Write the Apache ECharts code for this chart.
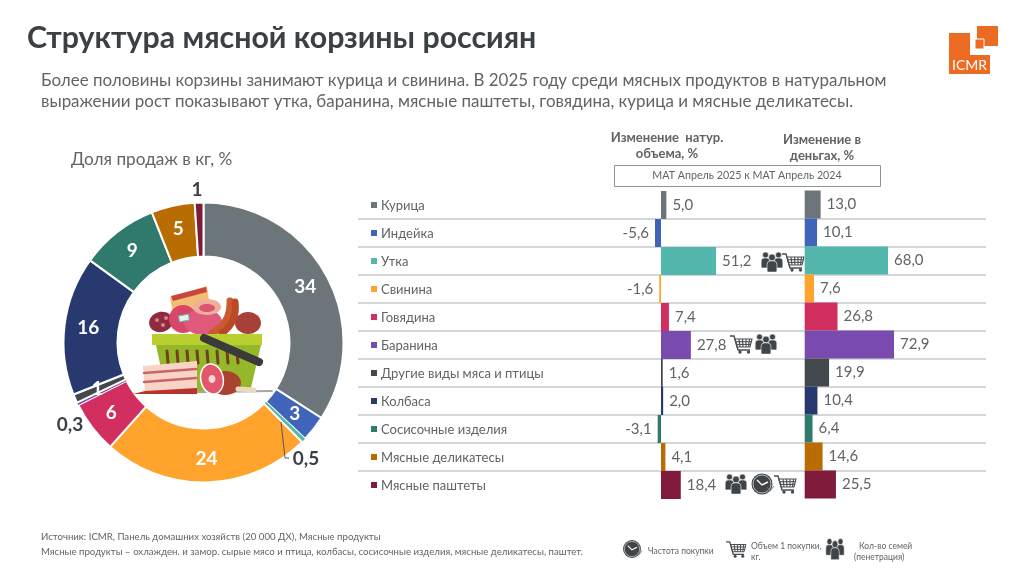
<!DOCTYPE html>
<html>
<head>
<meta charset="utf-8">
<style>html,body{margin:0;background:#fff}#chart{width:1024px;height:575px}</style>
<script src="https://cdn.jsdelivr.net/npm/echarts@6/dist/echarts.min.js"></script>
</head>
<body>
<div id="chart"></div>
<script>
const categories = ['Курица', 'Индейка', 'Утка', 'Свинина', 'Говядина', 'Баранина', 'Другие виды мяса и птицы', 'Колбаса', 'Сосисочные изделия', 'Мясные деликатесы', 'Мясные паштеты'];
const colors = ['#6b757a', '#4064b9', '#54b7ae', '#ffa32d', '#d22f60', '#7a4bae', '#43484c', '#27396f', '#2f7a6c', '#b96d00', '#7f1a3a'];
const shareKg = [34, 3, 0.5, 24, 6, 0.3, 1, 16, 9, 5, 1];
const volumeChange = [5.0, -5.6, 51.2, -1.6, 7.4, 27.8, 1.6, 2.0, -3.1, 4.1, 18.4];
const moneyChange = [13.0, 10.1, 68.0, 7.6, 26.8, 72.9, 19.9, 10.4, 6.4, 14.6, 25.5];

const FONT = 'Lato, "Noto Sans", sans-serif';
const TEXT = '#606467';
const DARK = '#3b4045';

const comma = (v, digits) => (digits == null ? String(v) : v.toFixed(digits)).replace('.', ',');

const txt = (x, y, text, size, opts = {}) => ({
  type: 'text', x, y, silent: true, z: 20,
  style: {
    text, fontSize: size, fontFamily: FONT, fill: opts.color || TEXT,
    fontWeight: opts.weight || 'normal', textAlign: opts.align || 'left', textVerticalAlign: 'middle'
  }
});

// small pictograms
const cart = (x, y, k = 1) => {
  const line = (points, w = 1.1) => ({ type: 'polyline', shape: { points }, style: { stroke: '#4a4e52', lineWidth: w, fill: null } });
  return {
    type: 'group', x, y, scaleX: k, scaleY: k, z: 20, silent: true,
    children: [
      line([[-11, -8], [-7, -8], [-3, 6], [9, 6]], 1.4),
      line([[-6, -5], [11, -5], [9, 3], [-4, 3], [-6, -5]]),
      line([[-5, -2.3], [10.3, -2.3]]), line([[-4.4, 0.4], [9.6, 0.4]]),
      line([[-2, -5], [-1, 3]]), line([[1.5, -5], [2, 3]]), line([[5, -5], [5, 3]]), line([[8.5, -5], [7.5, 3]]),
      { type: 'circle', shape: { cx: -1, cy: 8, r: 1.7 }, style: { fill: '#4a4e52' } },
      { type: 'circle', shape: { cx: 7.5, cy: 8, r: 1.7 }, style: { fill: '#4a4e52' } }
    ]
  };
};
const people = (x, y, k = 1, ky = 1) => {
  const person = (cx, cy, r) => [
    { type: 'circle', shape: { cx, cy, r }, style: { fill: '#3f4448', stroke: '#fff', lineWidth: 0.6 } },
    { type: 'rect', shape: { x: cx - r * 1.45, y: cy + r, width: r * 2.9, height: r * 3.3, r: [r, r, 1, 1] }, style: { fill: '#3f4448', stroke: '#fff', lineWidth: 0.6 } }
  ];
  return {
    type: 'group', x, y, scaleX: k, scaleY: k * ky, z: 20, silent: true,
    children: [...person(-6.5, -7, 3), ...person(6.5, -7, 3), ...person(0, -4.5, 3.4)]
  };
};
const clock = (x, y, k = 1) => ({
  type: 'group', x, y, scaleX: k, scaleY: k, z: 20, silent: true,
  children: [
    { type: 'circle', shape: { cx: 0, cy: 0, r: 10.5 }, style: { fill: '#3f4448' } },
    { type: 'circle', shape: { cx: 0, cy: 0, r: 9 }, style: { fill: null, stroke: '#d8dadb', lineWidth: 0.8 } },
    { type: 'polyline', shape: { points: [[-5, -4], [0, 1], [6, -2]] }, style: { stroke: '#fff', lineWidth: 1.4, fill: null } },
    { type: 'polyline', shape: { points: [[5, 3], [8, 7], [12, 2]] }, style: { stroke: '#6b6f72', lineWidth: 0.9, fill: null } }
  ]
});

const poly = (points, fill, extra = {}) => ({ type: 'polygon', shape: { points }, style: { fill, ...extra }, silent: true, z: 10 });
const ell = (cx, cy, rx, ry, fill, rotation = 0) => ({ type: 'ellipse', x: cx, y: cy, rotation, shape: { cx: 0, cy: 0, rx, ry }, style: { fill }, silent: true, z: 10 });
const seg = (x1, y1, x2, y2, stroke, lineWidth) => ({ type: 'line', shape: { x1, y1, x2, y2 }, style: { stroke, lineWidth, lineCap: 'round' }, silent: true, z: 10 });
const bend = (points, stroke, lineWidth) => ({ type: 'polyline', shape: { points, smooth: 0.5 }, style: { stroke, lineWidth, fill: null, lineCap: 'round' }, silent: true, z: 10 });

function rectLabel(x, y) {
  return { type: 'rect', x, y, rotation: 0.2, shape: { x: -5, y: -3, width: 10, height: 6 }, style: { fill: '#e8f4f2', stroke: '#6fb5ad', lineWidth: 1 }, silent: true, z: 10 };
}

// meat basket in the middle of the ring
const basket = [
  poly([[170, 297], [207, 286], [212, 322], [176, 330]], '#f3bd72'),
  poly([[171, 296], [206, 287], [207, 292], [173, 301]], '#c9463f'),
  ell(161, 322, 12, 10, '#8e2b3f', 0.25),
  ell(157, 320, 2, 2, '#d9808a'), ell(163, 325, 2, 2, '#d9808a'), ell(166, 318, 2, 2, '#d9808a'),
  ell(183, 319, 14, 14, '#d8466a'),
  ell(203, 322, 19, 13, '#e0587a'),
  ell(207, 307, 14, 8, '#eeb09a'),
  ell(207, 308, 8, 4, '#d8566f'),
  rectLabel(184, 318),
  ell(248, 323, 13, 11, '#a8403a'),
  bend([[212, 333], [226, 320], [230, 301]], '#cc5a30', 7),
  bend([[222, 333], [233, 320], [235, 302]], '#b84a26', 7),
  poly([[156, 345], [261, 345], [250, 392], [166, 392]], '#94b82a'),
  poly([[152, 334], [262, 334], [262, 345], [152, 345]], '#b9cf30'),
  ...[167, 177, 187, 197, 207, 217, 227, 237].map(x => seg(x, 351, x + 1, 363, '#70401f', 3)),
  seg(147, 393, 272, 391, '#a5a5a5', 2),
  poly([[143, 366], [197, 361], [197, 391], [145, 393]], '#f7d5c6'),
  seg(144, 373, 196, 369, '#c9636a', 2.5),
  seg(144, 382, 196, 378, '#c9636a', 2.5),
  poly([[145, 391], [197, 388], [197, 394], [133, 394]], '#b8342e'),
  ell(225, 383, 16, 12, '#a9432e'),
  ell(212, 379, 12, 16, '#fff', 0.2),
  ell(212, 379, 10.5, 14.5, '#e4566c', 0.2),
  ell(212, 379, 3.5, 4, '#f6d5d5'),
  seg(238, 389, 254, 390, '#ead9bf', 5),
  seg(204, 338, 259, 362, '#3a3a3a', 8)
];

// logo in the corner
const logo = [
  poly([[949, 33], [970, 33], [970, 55], [990, 55], [990, 74], [949, 74]], '#ec6a22'),
  poly([[977, 26], [998, 26], [998, 46], [977, 46]], '#ec6a22'),
  poly([[975, 39], [984, 39], [984, 49], [975, 49]], '#ec6a22', { stroke: '#fff', lineWidth: 1 }),
  txt(969.5, 65, 'ICMR', 14, { color: '#fff', align: 'center' })
];

const barSeries = (name, values, idx) => ({
  name, type: 'bar', xAxisIndex: idx, yAxisIndex: idx, barWidth: '100%', z: 5,
  data: values.map((value, i) => ({
    value,
    itemStyle: { color: colors[i] },
    label: { position: value < 0 ? 'left' : 'right' }
  })),
  label: { show: true, fontFamily: FONT, fontSize: 15, color: TEXT, distance: 6, formatter: p => comma(p.value, 1) }
});

const rich = { t: { fontFamily: FONT, fontSize: 13, color: TEXT, padding: [2, 0, 0, 4] } };
colors.forEach((c, i) => { rich['s' + i] = { width: 6, height: 6, backgroundColor: c }; });

// small slices carry their label outside the ring
const outerLabels = { 2: [306, 459], 5: [70, 425], 10: [197, 190] };

const chart = echarts.init(document.getElementById('chart'), null, { renderer: 'canvas' });
chart.setOption({
  animation: false,
  backgroundColor: '#fff',
  grid: [
    { left: 358, top: 191, width: 628, height: 308 },
    { left: 639.5, top: 191, width: 161.25, height: 308 },
    { left: 804.7, top: 190.5, width: 183.75, height: 308 }
  ],
  xAxis: [
    { gridIndex: 0, min: 0, max: 1, show: false },
    { gridIndex: 1, type: 'value', min: -20, max: 130, show: false },
    { gridIndex: 2, type: 'value', min: 0, max: 150, show: false }
  ],
  yAxis: [
    {
      gridIndex: 0, type: 'category', inverse: true, data: categories,
      axisLine: { show: false }, axisTick: { show: false },
      axisLabel: {
        inside: true, margin: 13, align: 'left', rich,
        formatter: (value, i) => `{s${i}|}{t|${value}}`
      },
      splitLine: { show: true, showMinLine: false, showMaxLine: false, lineStyle: { color: '#c4cacb', width: 1.5 } }
    },
    { gridIndex: 1, type: 'category', inverse: true, data: categories, show: false },
    { gridIndex: 2, type: 'category', inverse: true, data: categories, show: false }
  ],
  series: [
    barSeries('Изменение натур. объема, %', volumeChange, 1),
    barSeries('Изменение в деньгах, %', moneyChange, 2),
    {
      name: 'Доля продаж в кг, %', type: 'pie', center: [203.5, 342.5], radius: [86, 140],
      startAngle: 90, clockwise: true, avoidLabelOverlap: false, minAngle: 0,
      label: { show: true, position: 'inside', color: '#fff', fontFamily: FONT, fontSize: 19, fontWeight: 'bold', formatter: p => comma(p.value) },
      labelLayout: p => {
        const at = outerLabels[p.dataIndex];
        return at ? { x: at[0], y: at[1], align: 'center', verticalAlign: 'middle' } : {};
      },
      data: shareKg.map((value, i) => ({
        value, name: categories[i],
        itemStyle: { color: colors[i], borderColor: '#fff', borderWidth: (i === 2 || i === 5) ? 0 : 2 },
        label: outerLabels[i] ? { position: 'outside', color: DARK, fontSize: 19 } : undefined,
        labelLine: { show: false }
      }))
    }
  ],
  graphic: {
    elements: [
      txt(27, 38, 'Структура мясной корзины россиян', 30.3, { color: DARK, weight: 'bold' }),
      txt(41, 81, 'Более половины корзины занимают курица и свинина. В 2025 году среди мясных продуктов в натуральном', 16.95),
      txt(41, 102, 'выражении рост показывают утка, баранина, мясные паштеты, говядина, курица и мясные деликатесы.', 16.95),
      txt(71, 159, 'Доля продаж в кг, %', 17.2),
      txt(667, 138, 'Изменение  натур.', 13, { weight: 'bold', align: 'center' }),
      txt(667, 154, 'объема, %', 13, { weight: 'bold', align: 'center' }),
      txt(822, 140, 'Изменение в', 13, { weight: 'bold', align: 'center' }),
      txt(822, 156, 'деньгах, %', 13, { weight: 'bold', align: 'center' }),
      { type: 'rect', shape: { x: 614.5, y: 165.5, width: 266, height: 21 }, style: { fill: '#fff', stroke: '#8d9295', lineWidth: 1 }, silent: true },
      txt(747, 176, 'МАТ Апрель 2025 к МАТ Апрель 2024', 10.7, { align: 'center' }),
      { type: 'polyline', shape: { points: [[281, 422], [285, 458], [289, 458]] }, style: { stroke: '#55595c', lineWidth: 1, fill: null }, silent: true, z: 20 },
      ...basket,
      ...logo,
      people(772, 262), cart(793, 262),
      cart(741, 344), people(766, 344),
      people(736, 484), clock(762, 484), cart(785, 484),
      txt(41, 537, 'Источник: ICMR, Панель домашних хозяйств (20 000 ДХ), Мясные продукты', 9.64),
      txt(41, 552, 'Мясные продукты – охлажден. и замор. сырые мясо и птица, колбасы, сосисочные изделия, мясные деликатесы, паштет.', 9.64),
      clock(632, 549, 0.85), txt(648, 551, 'Частота покупки', 8.5),
      cart(736, 549, 0.9), txt(751, 546, 'Объем 1 покупки,', 8.5), txt(751, 557, 'кг.', 8.5),
      people(835, 549, 0.85, 1.25), txt(859, 546, 'Кол-во семей', 8.5), txt(854, 557, '(пенетрация)', 8.5)
    ]
  }
});
</script>
</body>
</html>
